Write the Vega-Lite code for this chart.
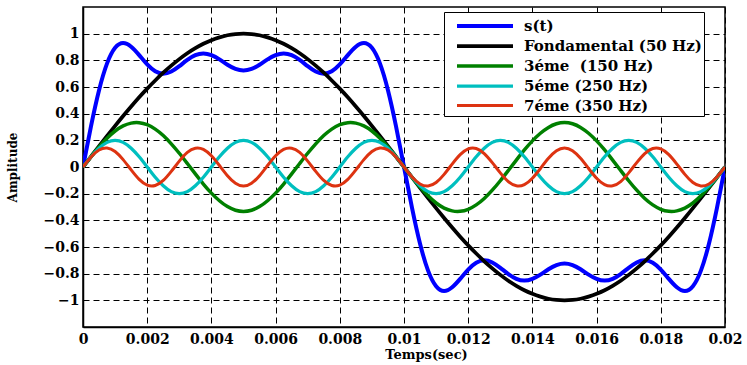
{
  "$schema": "https://vega.github.io/schema/vega-lite/v6.json",
  "autosize": "none",
  "width": 642,
  "height": 320,
  "padding": {"left": 83, "top": 7, "right": 22, "bottom": 38},
  "background": "white",
  "config": {
    "view": {"stroke": "black", "strokeWidth": 1.5},
    "axis": {
      "labelFont": "DejaVu Serif", "labelFontWeight": "bold", "labelFontSize": 14, "labelColor": "black",
      "titleFont": "DejaVu Serif", "titleFontWeight": "bold", "titleFontSize": 13, "titleColor": "black",
      "grid": true, "gridColor": "black", "gridDash": [6, 4], "gridOpacity": 1, "gridWidth": 1,
      "ticks": false, "domainColor": "black", "domainWidth": 1.5
    }
  },
  "data": {"values": [
    {"t":0,"s":0,"f1":0,"f3":0,"f5":0,"f7":0},
    {"t":0.00025,"s":0.307,"f1":0.078,"f3":0.078,"f5":0.077,"f7":0.075},
    {"t":0.0005,"s":0.576,"f1":0.156,"f3":0.151,"f5":0.141,"f7":0.127},
    {"t":0.00075,"s":0.777,"f1":0.233,"f3":0.216,"f5":0.185,"f7":0.142},
    {"t":0.001,"s":0.894,"f1":0.309,"f3":0.27,"f5":0.2,"f7":0.116},
    {"t":0.00125,"s":0.93,"f1":0.383,"f3":0.308,"f5":0.185,"f7":0.055},
    {"t":0.0015,"s":0.902,"f1":0.454,"f3":0.329,"f5":0.141,"f7":-0.022},
    {"t":0.00175,"s":0.839,"f1":0.523,"f3":0.332,"f5":0.077,"f7":-0.093},
    {"t":0.002,"s":0.769,"f1":0.588,"f3":0.317,"f5":0,"f7":-0.136},
    {"t":0.00225,"s":0.718,"f1":0.649,"f3":0.284,"f5":-0.077,"f7":-0.139},
    {"t":0.0025,"s":0.7,"f1":0.707,"f3":0.236,"f5":-0.141,"f7":-0.101},
    {"t":0.00275,"s":0.716,"f1":0.76,"f3":0.174,"f5":-0.185,"f7":-0.033},
    {"t":0.003,"s":0.756,"f1":0.809,"f3":0.103,"f5":-0.2,"f7":0.044},
    {"t":0.00325,"s":0.803,"f1":0.853,"f3":0.026,"f5":-0.185,"f7":0.109},
    {"t":0.0035,"s":0.839,"f1":0.891,"f3":-0.052,"f5":-0.141,"f7":0.141},
    {"t":0.00375,"s":0.852,"f1":0.924,"f3":-0.128,"f5":-0.077,"f7":0.132},
    {"t":0.004,"s":0.839,"f1":0.951,"f3":-0.196,"f5":0,"f7":0.084},
    {"t":0.00425,"s":0.807,"f1":0.972,"f3":-0.253,"f5":0.077,"f7":0.011},
    {"t":0.0045,"s":0.767,"f1":0.988,"f3":-0.297,"f5":0.141,"f7":-0.065},
    {"t":0.00475,"s":0.736,"f1":0.997,"f3":-0.324,"f5":0.185,"f7":-0.122},
    {"t":0.005,"s":0.724,"f1":1,"f3":-0.333,"f5":0.2,"f7":-0.143},
    {"t":0.00525,"s":0.736,"f1":0.997,"f3":-0.324,"f5":0.185,"f7":-0.122},
    {"t":0.0055,"s":0.767,"f1":0.988,"f3":-0.297,"f5":0.141,"f7":-0.065},
    {"t":0.00575,"s":0.807,"f1":0.972,"f3":-0.253,"f5":0.077,"f7":0.011},
    {"t":0.006,"s":0.839,"f1":0.951,"f3":-0.196,"f5":0,"f7":0.084},
    {"t":0.00625,"s":0.852,"f1":0.924,"f3":-0.128,"f5":-0.077,"f7":0.132},
    {"t":0.0065,"s":0.839,"f1":0.891,"f3":-0.052,"f5":-0.141,"f7":0.141},
    {"t":0.00675,"s":0.803,"f1":0.853,"f3":0.026,"f5":-0.185,"f7":0.109},
    {"t":0.007,"s":0.756,"f1":0.809,"f3":0.103,"f5":-0.2,"f7":0.044},
    {"t":0.00725,"s":0.716,"f1":0.76,"f3":0.174,"f5":-0.185,"f7":-0.033},
    {"t":0.0075,"s":0.7,"f1":0.707,"f3":0.236,"f5":-0.141,"f7":-0.101},
    {"t":0.00775,"s":0.718,"f1":0.649,"f3":0.284,"f5":-0.077,"f7":-0.139},
    {"t":0.008,"s":0.769,"f1":0.588,"f3":0.317,"f5":0,"f7":-0.136},
    {"t":0.00825,"s":0.839,"f1":0.523,"f3":0.332,"f5":0.077,"f7":-0.093},
    {"t":0.0085,"s":0.902,"f1":0.454,"f3":0.329,"f5":0.141,"f7":-0.022},
    {"t":0.00875,"s":0.93,"f1":0.383,"f3":0.308,"f5":0.185,"f7":0.055},
    {"t":0.009,"s":0.894,"f1":0.309,"f3":0.27,"f5":0.2,"f7":0.116},
    {"t":0.00925,"s":0.777,"f1":0.233,"f3":0.216,"f5":0.185,"f7":0.142},
    {"t":0.0095,"s":0.576,"f1":0.156,"f3":0.151,"f5":0.141,"f7":0.127},
    {"t":0.00975,"s":0.307,"f1":0.078,"f3":0.078,"f5":0.077,"f7":0.075},
    {"t":0.01,"s":0,"f1":0,"f3":0,"f5":0,"f7":0},
    {"t":0.01025,"s":-0.307,"f1":-0.078,"f3":-0.078,"f5":-0.077,"f7":-0.075},
    {"t":0.0105,"s":-0.576,"f1":-0.156,"f3":-0.151,"f5":-0.141,"f7":-0.127},
    {"t":0.01075,"s":-0.777,"f1":-0.233,"f3":-0.216,"f5":-0.185,"f7":-0.142},
    {"t":0.011,"s":-0.894,"f1":-0.309,"f3":-0.27,"f5":-0.2,"f7":-0.116},
    {"t":0.01125,"s":-0.93,"f1":-0.383,"f3":-0.308,"f5":-0.185,"f7":-0.055},
    {"t":0.0115,"s":-0.902,"f1":-0.454,"f3":-0.329,"f5":-0.141,"f7":0.022},
    {"t":0.01175,"s":-0.839,"f1":-0.523,"f3":-0.332,"f5":-0.077,"f7":0.093},
    {"t":0.012,"s":-0.769,"f1":-0.588,"f3":-0.317,"f5":0,"f7":0.136},
    {"t":0.01225,"s":-0.718,"f1":-0.649,"f3":-0.284,"f5":0.077,"f7":0.139},
    {"t":0.0125,"s":-0.7,"f1":-0.707,"f3":-0.236,"f5":0.141,"f7":0.101},
    {"t":0.01275,"s":-0.716,"f1":-0.76,"f3":-0.174,"f5":0.185,"f7":0.033},
    {"t":0.013,"s":-0.756,"f1":-0.809,"f3":-0.103,"f5":0.2,"f7":-0.044},
    {"t":0.01325,"s":-0.803,"f1":-0.853,"f3":-0.026,"f5":0.185,"f7":-0.109},
    {"t":0.0135,"s":-0.839,"f1":-0.891,"f3":0.052,"f5":0.141,"f7":-0.141},
    {"t":0.01375,"s":-0.852,"f1":-0.924,"f3":0.128,"f5":0.077,"f7":-0.132},
    {"t":0.014,"s":-0.839,"f1":-0.951,"f3":0.196,"f5":0,"f7":-0.084},
    {"t":0.01425,"s":-0.807,"f1":-0.972,"f3":0.253,"f5":-0.077,"f7":-0.011},
    {"t":0.0145,"s":-0.767,"f1":-0.988,"f3":0.297,"f5":-0.141,"f7":0.065},
    {"t":0.01475,"s":-0.736,"f1":-0.997,"f3":0.324,"f5":-0.185,"f7":0.122},
    {"t":0.015,"s":-0.724,"f1":-1,"f3":0.333,"f5":-0.2,"f7":0.143},
    {"t":0.01525,"s":-0.736,"f1":-0.997,"f3":0.324,"f5":-0.185,"f7":0.122},
    {"t":0.0155,"s":-0.767,"f1":-0.988,"f3":0.297,"f5":-0.141,"f7":0.065},
    {"t":0.01575,"s":-0.807,"f1":-0.972,"f3":0.253,"f5":-0.077,"f7":-0.011},
    {"t":0.016,"s":-0.839,"f1":-0.951,"f3":0.196,"f5":0,"f7":-0.084},
    {"t":0.01625,"s":-0.852,"f1":-0.924,"f3":0.128,"f5":0.077,"f7":-0.132},
    {"t":0.0165,"s":-0.839,"f1":-0.891,"f3":0.052,"f5":0.141,"f7":-0.141},
    {"t":0.01675,"s":-0.803,"f1":-0.853,"f3":-0.026,"f5":0.185,"f7":-0.109},
    {"t":0.017,"s":-0.756,"f1":-0.809,"f3":-0.103,"f5":0.2,"f7":-0.044},
    {"t":0.01725,"s":-0.716,"f1":-0.76,"f3":-0.174,"f5":0.185,"f7":0.033},
    {"t":0.0175,"s":-0.7,"f1":-0.707,"f3":-0.236,"f5":0.141,"f7":0.101},
    {"t":0.01775,"s":-0.718,"f1":-0.649,"f3":-0.284,"f5":0.077,"f7":0.139},
    {"t":0.018,"s":-0.769,"f1":-0.588,"f3":-0.317,"f5":0,"f7":0.136},
    {"t":0.01825,"s":-0.839,"f1":-0.523,"f3":-0.332,"f5":-0.077,"f7":0.093},
    {"t":0.0185,"s":-0.902,"f1":-0.454,"f3":-0.329,"f5":-0.141,"f7":0.022},
    {"t":0.01875,"s":-0.93,"f1":-0.383,"f3":-0.308,"f5":-0.185,"f7":-0.055},
    {"t":0.019,"s":-0.894,"f1":-0.309,"f3":-0.27,"f5":-0.2,"f7":-0.116},
    {"t":0.01925,"s":-0.777,"f1":-0.233,"f3":-0.216,"f5":-0.185,"f7":-0.142},
    {"t":0.0195,"s":-0.576,"f1":-0.156,"f3":-0.151,"f5":-0.141,"f7":-0.127},
    {"t":0.01975,"s":-0.307,"f1":-0.078,"f3":-0.078,"f5":-0.077,"f7":-0.075},
    {"t":0.02,"s":0,"f1":0,"f3":0,"f5":0,"f7":0}
  ]},
  "transform": [{"fold": ["s", "f1", "f3", "f5", "f7"], "as": ["serie", "v"]}],
  "mark": {"type": "line", "interpolate": "natural", "clip": true},
  "encoding": {
    "x": {
      "field": "t", "type": "quantitative",
      "scale": {"domain": [0, 0.02], "nice": false, "zero": false},
      "axis": {
        "title": "Temps(sec)", "values": [0, 0.002, 0.004, 0.006, 0.008, 0.01, 0.012, 0.014, 0.016, 0.018, 0.02],
        "format": "~g", "labelPadding": 5, "titlePadding": 2, "titleX": 343, "labelFlush": false
      }
    },
    "y": {
      "field": "v", "type": "quantitative",
      "scale": {"domain": [-1.2, 1.2], "nice": false, "zero": false},
      "axis": {
        "title": "Amplitude", "values": [-1, -0.8, -0.6, -0.4, -0.2, 0, 0.2, 0.4, 0.6, 0.8, 1],
        "format": "~g", "labelPadding": 4, "titleX": -64, "titleY": 160, "titleFontSize": 12
      }
    },
    "color": {
      "field": "serie", "type": "nominal",
      "scale": {"domain": ["s", "f1", "f3", "f5", "f7"], "range": ["#0000FF", "#000000", "#008000", "#00BFBF", "#DD3311"]},
      "legend": {
        "title": null, "orient": "none", "legendX": 361, "legendY": 5,
        "symbolType": "M-0.1,0L5.5,0", "symbolSize": 400, "symbolStrokeWidth": 3, "labelOffset": 54,
        "labelFont": "DejaVu Serif", "labelFontWeight": "bold", "labelFontSize": 15, "labelColor": "black", "labelLimit": 400,
        "strokeColor": "black", "fillColor": "white", "padding": 2, "rowPadding": -1,
        "labelExpr": "datum.label == 's' ? 's(t)' : datum.label == 'f1' ? 'Fondamental (50 Hz)' : datum.label == 'f3' ? '3éme\u00a0 (150 Hz)' : datum.label == 'f5' ? '5éme (250 Hz)' : '7éme (350 Hz)'"
      }
    },
    "strokeWidth": {
      "field": "serie", "type": "nominal",
      "scale": {"domain": ["s", "f1", "f3", "f5", "f7"], "range": [4, 3, 3, 3, 3]},
      "legend": null
    }
  }
}
